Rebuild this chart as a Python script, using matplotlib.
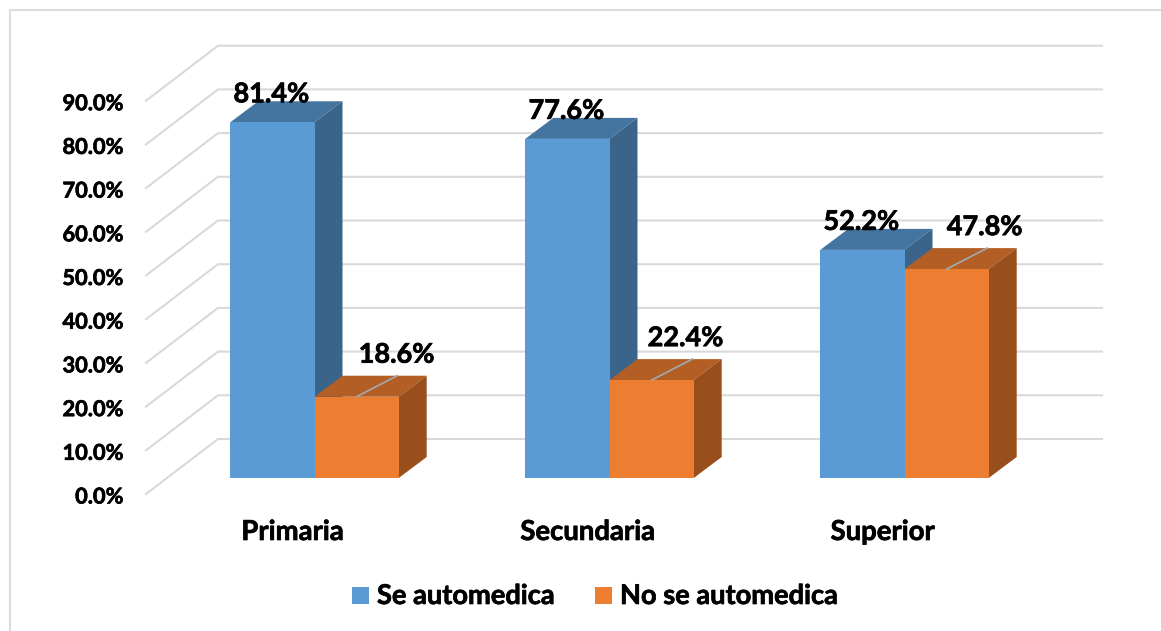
import matplotlib
matplotlib.use("Agg")
import matplotlib.pyplot as plt
import matplotlib.patheffects as pe
from matplotlib.lines import Line2D
from matplotlib.patches import Rectangle

plt.rcParams['font.family'] = ['Lato', 'DejaVu Sans']
plt.rcParams['font.weight'] = 'bold'

categorias = ["Primaria", "Secundaria", "Superior"]
se_automedica = [81.4, 77.6, 52.2]
no_se_automedica = [18.6, 22.4, 47.8]
etiquetas_y = [0, 10, 20, 30, 40, 50, 60, 70, 80, 90]

AZUL, AZUL_TOP, AZUL_LADO = '#5b9bd5', '#4475a0', '#3a6489'
NAR, NAR_TOP, NAR_LADO = '#ed7d31', '#b25e25', '#984f1c'
GRIS = '#d9d9d9'

W, H = 1161, 631
PX_X = 295.0      # pixeles por categoria
PX_Y = 4.37       # pixeles por punto porcentual
ANCHO = 84.2 / PX_X
# desplazamientos de la perspectiva
BAR_DX, BAR_DY = 28 / PX_X, 21 / PX_Y
SUELO_DX, SUELO_DY = 72 / PX_X, 55 / PX_Y
FRENTE_X, FRENTE_Y = -168.5 / PX_X, -16 / PX_Y  # esquina frontal del piso
# ajuste horizontal de las etiquetas naranjas, en pixeles
AJUSTE_NAR = [82, 76, 80]

negrita = [pe.withStroke(linewidth=0.5, foreground='black')]

fig = plt.figure(figsize=(W / 100, H / 100), dpi=100, facecolor='white')
ax = fig.add_axes([0, 0, 1, 1])
ax.set_xlim(-314.5 / PX_X, (W - 314.5) / PX_X)
ax.set_ylim(-(H - 478) / PX_Y, 478 / PX_Y)
ax.axis('off')

# marco del grafico, solo arriba e izquierda
fig.add_artist(Line2D([9.5 / W, 9.5 / W, 1], [0, 1 - 10 / H, 1 - 10 / H],
                      color='#dcdcdc', lw=1.5))

# rejilla
x_fin = (1102 - 314.5) / PX_X
for v in etiquetas_y:
    y0 = v + FRENTE_Y
    ax.plot([FRENTE_X, FRENTE_X + SUELO_DX, x_fin],
            [y0, y0 + SUELO_DY, y0 + SUELO_DY], color=GRIS, lw=1.5, zorder=1)
    ax.text(FRENTE_X - 23 / PX_X, y0 - 3 / PX_Y, f"{v:.1f}%", ha='right', va='center',
            fontsize=15.7, color='black', zorder=6, path_effects=negrita)


def barra3d(izq, valor, frente, top, lado, z):
    der = izq + ANCHO
    ax.bar(izq, valor, ANCHO, align='edge', color=frente, zorder=z + 0.2)
    ax.fill([izq, der, der + BAR_DX, izq + BAR_DX],
            [valor, valor, valor + BAR_DY, valor + BAR_DY], color=top, lw=0, zorder=z)
    ax.fill([der, der + BAR_DX, der + BAR_DX, der],
            [0, BAR_DY, valor + BAR_DY, valor], color=lado, lw=0, zorder=z)


for i, cat in enumerate(categorias):
    a, b = se_automedica[i], no_se_automedica[i]
    barra3d(i - ANCHO, a, AZUL, AZUL_TOP, AZUL_LADO, 2)
    barra3d(i, b, NAR, NAR_TOP, NAR_LADO, 3)
    # linea guia de la etiqueta naranja
    ax.plot([i + ANCHO / 2, i + ANCHO / 2 + BAR_DX * 1.45],
            [b, b + BAR_DY], color='#a6a6a6', lw=1.3, zorder=4)
    ax.text(i - ANCHO + 41 / PX_X, a + 20 / PX_Y, f"{a:.1f}%", ha='center', va='baseline',
            fontsize=19.5, color='black', zorder=6, path_effects=negrita)
    ax.text(i + AJUSTE_NAR[i] / PX_X, b + 34 / PX_Y, f"{b:.1f}%", ha='center', va='baseline',
            fontsize=19.5, color='black', zorder=6, path_effects=negrita)
    ax.text(i - 22 / PX_X, -54 / PX_Y, cat, ha='center', va='center',
            fontsize=19.8, color='black', path_effects=negrita)

# leyenda
for x_cuadro, color, txt in [(352, AZUL, "Se automedica"), (595, NAR, "No se automedica")]:
    fig.add_artist(Rectangle((x_cuadro / W, 1 - 604 / H), 17 / W, 17 / H,
                             facecolor=color, edgecolor='none'))
    fig.text((x_cuadro + 25) / W, 1 - 596 / H, txt, ha='left', va='center',
             fontsize=19.6, color='black', path_effects=negrita)

fig.savefig("out.png", dpi=100)
